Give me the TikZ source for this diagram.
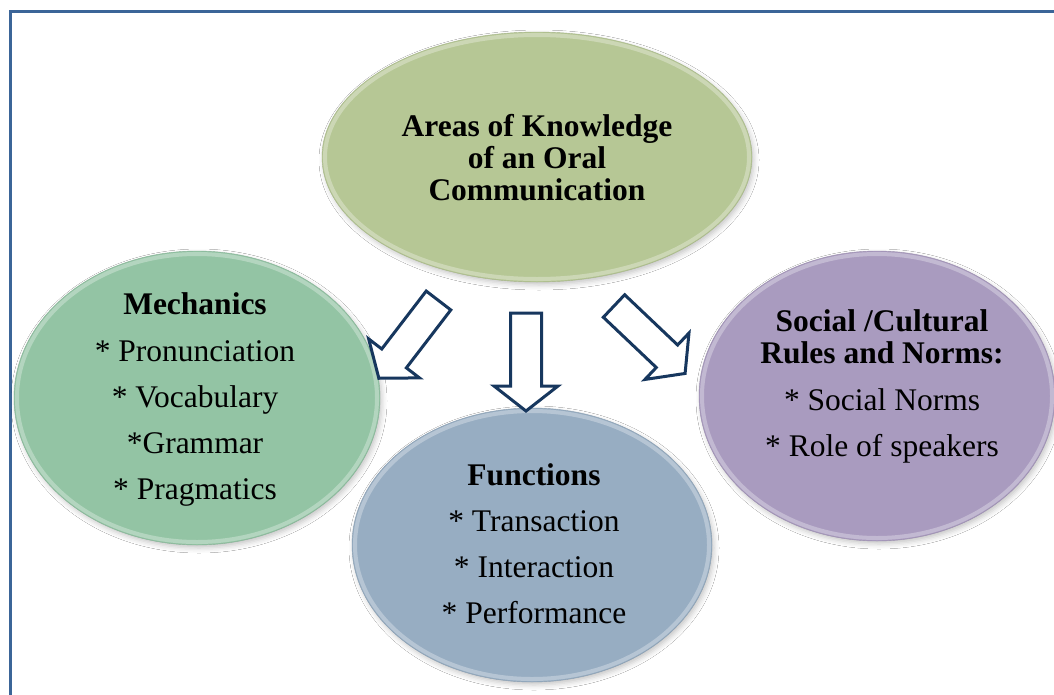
\documentclass[tikz,border=0pt]{standalone}
\usepackage{fontspec}
\setmainfont{Liberation Serif}
\usetikzlibrary{shapes.geometric,shadows.blur}
\definecolor{framec}{HTML}{3B6598}
\definecolor{topc}{HTML}{B6C795}
\definecolor{leftc}{HTML}{93C4A4}
\definecolor{botc}{HTML}{97ADC2}
\definecolor{rightc}{HTML}{A99BBF}
\definecolor{arrowc}{HTML}{17375E}
\tikzset{
  bubble/.style={ellipse, inner sep=0pt, fill=#1, draw=#1!90!black, line width=0.4pt,
    blur shadow={shadow xshift=2pt, shadow yshift=-3pt, shadow blur radius=5pt, shadow opacity=22}},
  rim/.style={draw=white, draw opacity=0.3, line width=4pt},
  txt/.style={align=center, font=\fontsize{31.5}{32}\selectfont, text=black},
  blockarrow/.style={draw=arrowc, fill=white, line width=3pt, line join=miter},
}
\newcommand{\blockarr}[3]{%
  \draw[blockarrow, shift={(#1,#2)}, rotate=#3]
    (0,-15.5) -- (73,-15.5) -- (73,-32) -- (98,0) -- (73,32) -- (73,15.5) -- (0,15.5) -- cycle;}
\begin{document}
\begin{tikzpicture}[x=1pt,y=-1pt]
\useasboundingbox (0,0) rectangle (1054,694);
\fill[white] (0,0) rectangle (1054,694);
\draw[framec, line width=3pt] (10.5,11) rectangle (1075,715);

% ellipses
\node[bubble=topc, minimum width=430pt, minimum height=250pt] (top) at (537,157) {};
\draw[rim] (top.center) ellipse [x radius=212pt, y radius=122pt];
\node[bubble=leftc, minimum width=366pt, minimum height=294pt] (left) at (197,398) {};
\draw[rim] (left.center) ellipse [x radius=180pt, y radius=144pt];
\node[bubble=botc, minimum width=360pt, minimum height=274pt] (bot) at (532,545) {};
\draw[rim] (bot.center) ellipse [x radius=177pt, y radius=134pt];
\node[bubble=rightc, minimum width=356pt, minimum height=290pt] (right) at (877,396) {};
\draw[rim] (right.center) ellipse [x radius=175pt, y radius=142pt];

% texts
\node[txt] (toptxt) at (537,158) {\textbf{Areas of Knowledge}\\\textbf{of an Oral}\\\textbf{Communication}};
\node[txt] (lefttxt) at (195,399) {\textbf{Mechanics}\\[15pt]* Pronunciation\\[14pt]* Vocabulary\\[14pt]*Grammar\\[14pt]* Pragmatics};
\node[txt] (bottxt) at (534,544) {\textbf{Functions}\\[14pt]* Transaction\\[14pt]* Interaction\\[14pt]* Performance};
\node[txt] (righttxt) at (882,386) {\textbf{Social /Cultural}\\\textbf{Rules and Norms:}\\[15pt]* Social Norms\\[14pt]* Role of speakers};

% block arrows
\blockarr{438.5}{300.5}{232.5}
\blockarr{526}{313}{-90}
\blockarr{614}{306}{-43.5}
\end{tikzpicture}
\end{document}
